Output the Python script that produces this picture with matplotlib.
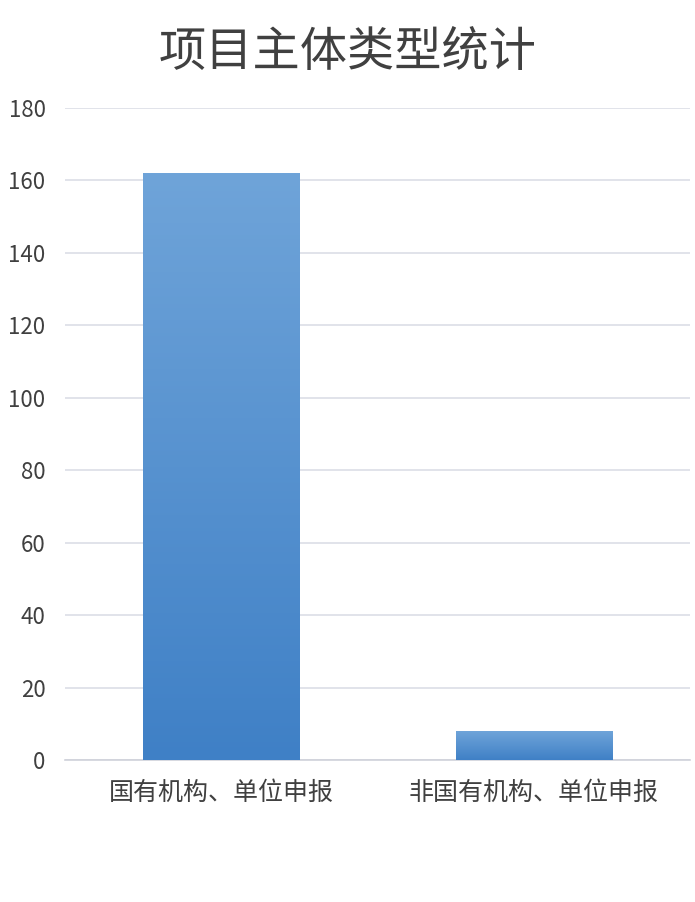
import matplotlib.pyplot as plt
import numpy as np
from matplotlib.colors import LinearSegmentedColormap

plt.rcParams['font.family'] = ['Noto Sans CJK SC', 'DejaVu Sans']

# data
categories = ['国有机构、单位申报', '非国有机构、单位申报']
counts = [162, 8]
yticks = [0, 20, 40, 60, 80, 100, 120, 140, 160, 180]

fig = plt.figure(figsize=(6.95, 9.02), dpi=100)
ax = fig.add_axes([0.0935, 0.1574, 0.8995, 0.7229])

x = np.arange(len(categories))
bars = ax.bar(x, counts, width=0.5, color='none', zorder=3)

# vertical gradient fill for each bar
cmap = LinearSegmentedColormap.from_list('bl', ['#3f80c6', '#6fa4d9'])
grad = np.linspace(0, 1, 256).reshape(-1, 1)
for b in bars:
    x0, w, h = b.get_x(), b.get_width(), b.get_height()
    im = ax.imshow(grad, cmap=cmap, aspect='auto', origin='lower',
                   extent=[x0, x0 + w, 0, h], zorder=3)
    im.set_clip_path(b)

ax.set_xlim(-0.5, 1.5)
ax.set_ylim(0, 180)
ax.set_yticks(yticks)
ax.set_xticks(x)
ax.set_xticklabels(categories, fontsize=18, color='#404040')
ax.tick_params(axis='y', labelsize=16, labelcolor='#404040', length=0, pad=14)
ax.tick_params(axis='x', length=0, pad=14)
ax.grid(axis='y', color='#dcdee6', linewidth=1.2, zorder=0)
for s in ['top', 'right', 'left']:
    ax.spines[s].set_visible(False)
ax.spines['bottom'].set_color('#d0d2da')
ax.spines['bottom'].set_linewidth(1.2)

fig.text(0.5, 0.942, '项目主体类型统计', ha='center', va='center',
         fontsize=34, fontweight='medium', color='#404040')

fig.savefig('out.png', dpi=100)
